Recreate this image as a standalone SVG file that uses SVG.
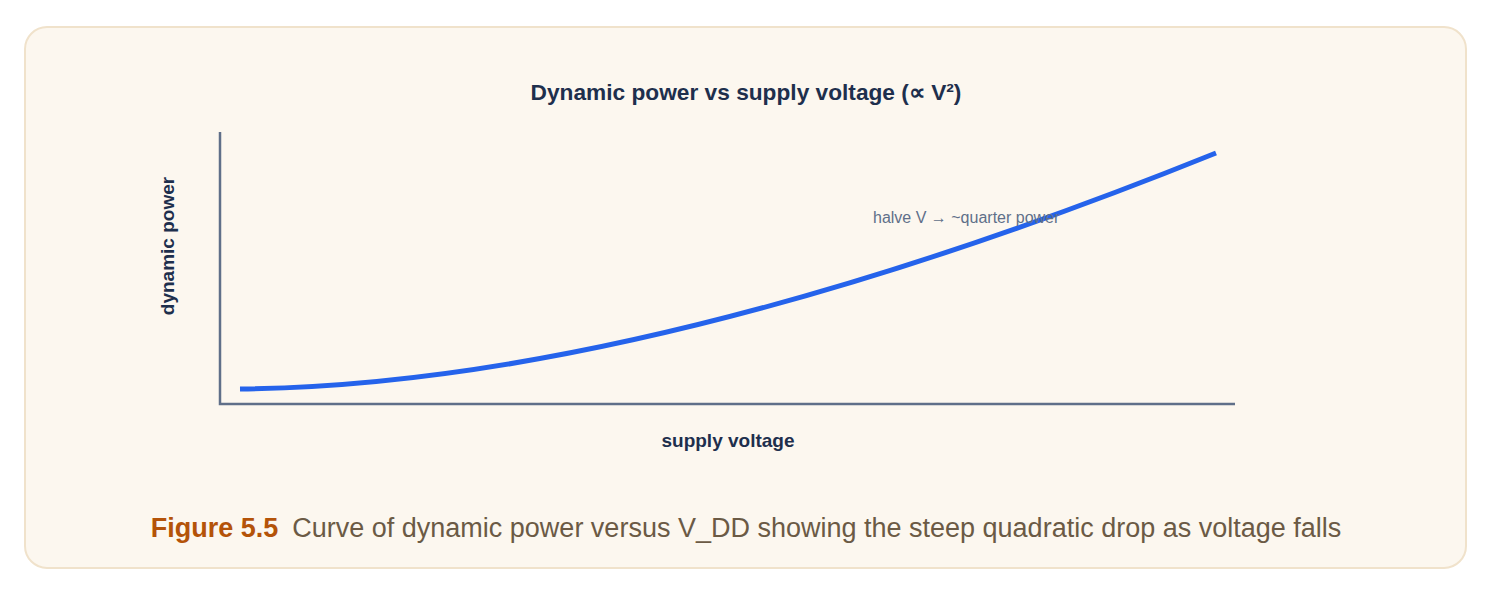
<svg xmlns="http://www.w3.org/2000/svg" width="1494" height="594" viewBox="0 0 1494 594">
<style>
text{font-family:"Liberation Sans",Arial,sans-serif}
.t{font-size:22.7px;font-weight:bold;fill:#1e2f4d}
.ax{font-size:19px;font-weight:bold;fill:#1e2f4d}
</style>
<rect x="25" y="27" width="1441" height="541" rx="22" fill="#fcf7ef" stroke="#f0e2cb" stroke-width="2"/>
<text class="t" x="746" y="100" text-anchor="middle">Dynamic power vs supply voltage (∝ V²)</text>
<g id="axes" fill="none" stroke="#5f6f89" stroke-width="2.5">
<path d="M220 132 V404 H1235"/>
</g>
<g id="connectors">
<path id="curve" d="M240 389 Q640 385 1216 153" fill="none" stroke="#2563eb" stroke-width="5"/>
</g>
<text x="873" y="223" font-size="16" fill="#5f6f89">halve V → ~quarter power</text>
<text class="ax" x="728" y="447" text-anchor="middle">supply voltage</text>
<text class="ax" transform="translate(174 246) rotate(-90)" text-anchor="middle">dynamic power</text>
<text x="746" y="537" font-size="27" text-anchor="middle"><tspan font-weight="bold" fill="#b45309">Figure 5.5</tspan><tspan fill="#6b5a45" dx="14">Curve of dynamic power versus V_DD showing the steep quadratic drop as voltage falls</tspan></text>
</svg>
